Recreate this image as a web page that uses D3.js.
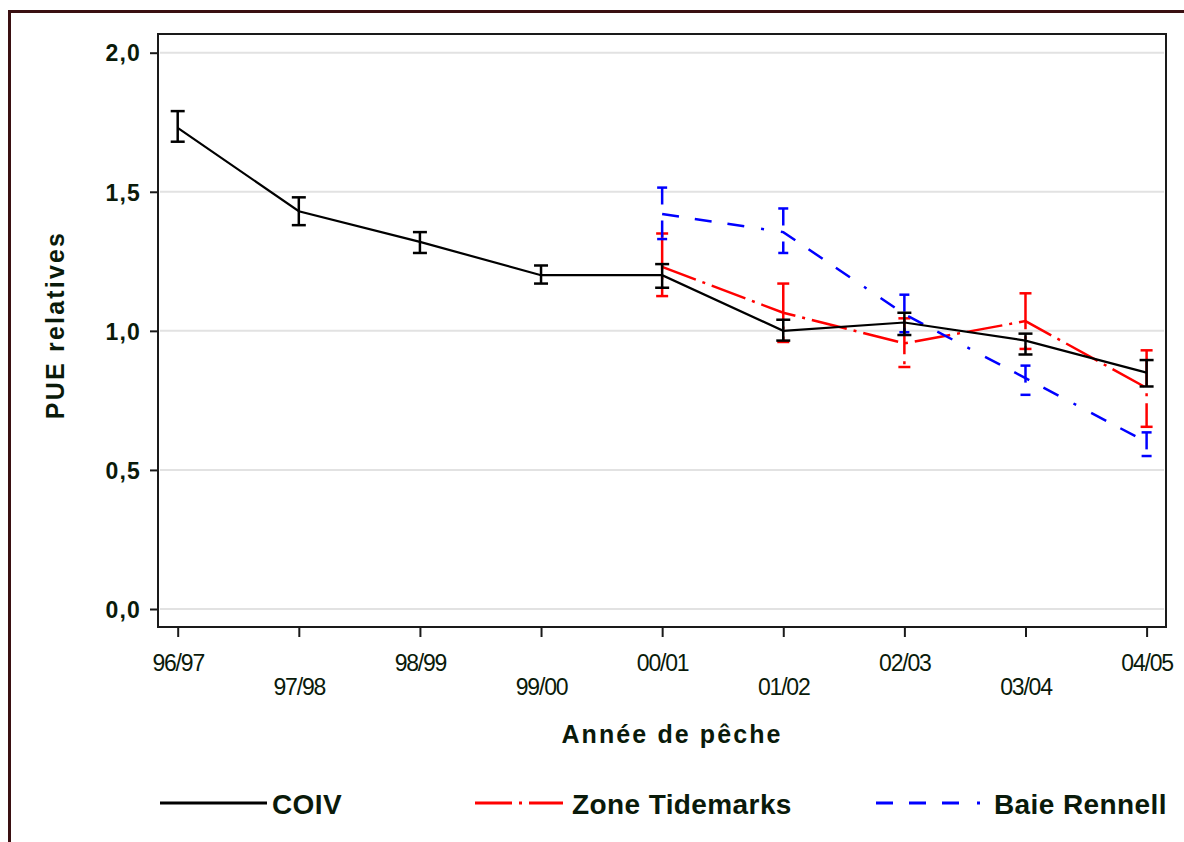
<!DOCTYPE html>
<html>
<head>
<meta charset="utf-8">
<script src="https://cdn.jsdelivr.net/npm/d3@7"></script>
<style>
  html, body { margin: 0; padding: 0; background: #fff; }
  svg { display: block; }
  text { font-family: "Liberation Sans", Arial, sans-serif; fill: #0a1a0a; }
</style>
</head>
<body>
<svg id="chart" width="1184" height="842"></svg>
<script>
// ---- data ----
const categories = ["96/97","97/98","98/99","99/00","00/01","01/02","02/03","03/04","04/05"];
const yTicks = [0, 0.5, 1.0, 1.5, 2.0];

const coiv      = [1.73, 1.43, 1.32, 1.20, 1.20, 1.00, 1.03, 0.965, 0.85];
const coivLow   = [1.68, 1.38, 1.28, 1.17, 1.155, 0.965, 0.985, 0.915, 0.80];
const coivHigh  = [1.79, 1.48, 1.355, 1.235, 1.24, 1.04, 1.065, 0.99, 0.895];

const tide      = [null, null, null, null, 1.23, 1.065, 0.955, 1.035, 0.795];
const tideLow   = [null, null, null, null, 1.125, 0.96, 0.87, 0.935, 0.655];
const tideHigh  = [null, null, null, null, 1.35, 1.17, 1.045, 1.135, 0.93];

const renn      = [null, null, null, null, 1.42, 1.355, 1.06, 0.83, 0.60];
const rennLow   = [null, null, null, null, 1.33, 1.28, 0.995, 0.77, 0.55];
const rennHigh  = [null, null, null, null, 1.515, 1.44, 1.13, 0.875, 0.635];

const seriesNames = ["COIV", "Zone Tidemarks", "Baie Rennell"];

// ---- chart ----
const svg = d3.select("#chart");

// outer frame
svg.append("rect").attr("x", 9.5).attr("y", 11.5).attr("width", 1300).attr("height", 1000)
  .attr("fill", "none").attr("stroke", "#3a1012").attr("stroke-width", 3);

const box = {left: 158, top: 34, right: 1166, bottom: 627};

const x = d3.scalePoint().domain(categories).range([177.7, 1146.6]);
const y = d3.scaleLinear().domain([0, 2]).range([609, 52.7]);

// gridlines
svg.append("g").selectAll("line").data(yTicks).join("line")
  .attr("x1", box.left + 2).attr("x2", box.right - 2)
  .attr("y1", d => y(d)).attr("y2", d => y(d))
  .attr("stroke", "#e2e2e2").attr("stroke-width", 2);

// plot box
svg.append("rect").attr("x", box.left).attr("y", box.top)
  .attr("width", box.right - box.left).attr("height", box.bottom - box.top)
  .attr("fill", "none").attr("stroke", "#1a1a1a").attr("stroke-width", 2);

// y axis
const yAxis = svg.append("g").attr("transform", `translate(${box.left},0)`)
  .call(d3.axisLeft(y).tickValues(yTicks).tickSize(8).tickPadding(9)
    .tickFormat(d => d.toFixed(1).replace(".", ",")));
yAxis.select(".domain").remove();
yAxis.selectAll(".tick line").attr("stroke", "#1a1a1a").attr("stroke-width", 2);
yAxis.selectAll(".tick text")
  .attr("font-family", "'Liberation Sans', Arial, sans-serif")
  .attr("font-size", 23).attr("font-weight", "bold").attr("letter-spacing", 1.2)
  .attr("fill", "#0a1a0a").attr("dy", "0.36em");

// x axis
const xAxis = svg.append("g").attr("transform", `translate(0,${box.bottom})`)
  .call(d3.axisBottom(x).tickSize(10).tickPadding(0));
xAxis.select(".domain").remove();
xAxis.selectAll(".tick line").attr("stroke", "#1a1a1a").attr("stroke-width", 2);
xAxis.selectAll(".tick text")
  .attr("font-family", "'Liberation Sans', Arial, sans-serif")
  .attr("font-size", 23).attr("letter-spacing", -1.2)
  .attr("fill", "#0a1a0a")
  .attr("dy", null)
  .attr("y", (d, i) => i % 2 === 0 ? 44 : 68);

// axis titles
svg.append("text").attr("x", 672).attr("y", 743).attr("text-anchor", "middle")
  .attr("font-size", 25).attr("font-weight", "bold").attr("letter-spacing", 2.1)
  .text("Année de pêche");
svg.append("text").attr("transform", "translate(64,325) rotate(-90)")
  .attr("text-anchor", "middle")
  .attr("font-size", 25).attr("font-weight", "bold").attr("letter-spacing", 2.2)
  .text("PUE relatives");

// series
const series = [
  {name: seriesNames[1], vals: tide, lo: tideLow, hi: tideHigh, color: "#ff0000", dash: "36,7,3,7", width: 2.5, cap: 12},
  {name: seriesNames[2], vals: renn, lo: rennLow, hi: rennHigh, color: "#0000ff", dash: "17,16,17,16,17,17,3,17", width: 2.5, cap: 10},
  {name: seriesNames[0], vals: coiv, lo: coivLow, hi: coivHigh, color: "#000000", dash: null, width: 2.2, cap: 14}
];

const line = d3.line().defined(d => d.v != null).x(d => x(d.c)).y(d => y(d.v));

series.forEach(s => {
  const pts = categories.map((c, i) => ({c, v: s.vals[i], lo: s.lo[i], hi: s.hi[i]})).filter(d => d.v != null);
  const g = svg.append("g");
  g.append("path").datum(pts).attr("d", line)
    .attr("fill", "none").attr("stroke", s.color).attr("stroke-width", s.width)
    .attr("stroke-dasharray", s.dash);
  const eb = g.selectAll("g.eb").data(pts).join("g");
  eb.append("line").attr("x1", d => x(d.c)).attr("x2", d => x(d.c))
    .attr("y1", d => y(d.hi)).attr("y2", d => y(d.lo))
    .attr("stroke", s.color).attr("stroke-width", 2.5).attr("stroke-dasharray", s.dash);
  ["hi", "lo"].forEach(k => {
    eb.append("line").attr("x1", d => x(d.c) - s.cap / 2).attr("x2", d => x(d.c) + s.cap / 2)
      .attr("y1", d => y(d[k])).attr("y2", d => y(d[k]))
      .attr("stroke", s.color).attr("stroke-width", 2.5);
  });
});

// legend
const legend = [
  {name: seriesNames[0], color: "#000000", dash: null, x1: 160, x2: 267, tx: 272},
  {name: seriesNames[1], color: "#ff0000", dash: "37,7,3,7", x1: 475, x2: 563, tx: 572},
  {name: seriesNames[2], color: "#0000ff", dash: "17,16,17,16,17,18,3,20", x1: 876, x2: 982, tx: 994}
];
const lg = svg.append("g").selectAll("g").data(legend).join("g");
lg.append("line").attr("x1", d => d.x1).attr("x2", d => d.x2).attr("y1", 803).attr("y2", 803)
  .attr("stroke", d => d.color).attr("stroke-width", 3).attr("stroke-dasharray", d => d.dash);
lg.append("text").attr("x", d => d.tx).attr("y", 814)
  .attr("font-size", 28).attr("font-weight", "bold").attr("letter-spacing", 0.4)
  .text(d => d.name);
</script>
</body>
</html>
